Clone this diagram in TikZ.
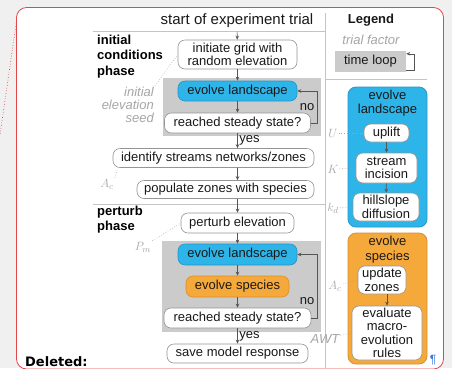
\documentclass[tikz,border=0pt]{standalone}
\usepackage{fontspec}
\setmainfont{Liberation Sans}
\newfontfamily\delfont{DejaVu Sans}
\usetikzlibrary{arrows.meta}
\definecolor{boxgray}{HTML}{959595}
\definecolor{loopgray}{HTML}{CBCBCB}
\definecolor{lgray}{HTML}{C4C4C4}
\definecolor{lblue}{HTML}{2DB4E8}
\definecolor{dblue}{HTML}{2596C8}
\definecolor{lorange}{HTML}{F6A93B}
\definecolor{dorange}{HTML}{D8912E}
\definecolor{labgray}{HTML}{A6A6A6}
\definecolor{wordred}{HTML}{E2474B}
\definecolor{pagebg}{HTML}{F0F0F0}
\definecolor{inkgray}{HTML}{555555}
\definecolor{pilcrow}{HTML}{3C78D8}
\begin{document}
\begin{tikzpicture}[x=1pt,y=-1pt,
        txt/.style={font=\fontsize{13}{13.5}\selectfont, text=black!90},
        whitebox/.style={txt, draw=boxgray, fill=white, rounded corners=7pt, inner sep=0pt, align=center, line width=0.6pt},
        bluebox/.style={whitebox, fill=lblue, draw=dblue},
        orangebox/.style={whitebox, fill=lorange, draw=dorange},
        panel/.style={rounded corners=8pt, inner sep=0pt, line width=0.8pt},
        arr/.style={draw=inkgray, line width=0.6pt, -{Stealth[length=4pt,width=3.5pt]}},
        seedline/.style={draw=labgray, dotted, line width=0.6pt},
        divider/.style={draw=lgray, line width=0.8pt},
        faint/.style={text=labgray, font=\fontsize{13}{13}\selectfont\itshape, inner sep=1pt},
        phase/.style={font=\fontsize{13}{15.5}\selectfont\bfseries, align=left, anchor=west, inner sep=0pt}]
        \useasboundingbox (0,0) rectangle (452,368);
        \clip (0,0) rectangle (452,368);
        \fill[pagebg] (0,0) rectangle (452,368);
        % comment balloon
        \draw[wordred, fill=white, rounded corners=10pt, line width=0.8pt] (16.5,7.5) rectangle (443.5,369);
        \draw[wordred, dotted, line width=0.7pt] (16.5,21) -- (0,135);
        \node[anchor=base west, inner sep=0pt, font=\fontsize{13}{13}\delfont\bfseries] (del) at (25,366) {Deleted:};
        \node[text=pilcrow, inner sep=0pt, font=\fontsize{12}{12}\selectfont] (pil) at (433,360) {¶};
        % dividers
        \draw[divider] (93,31) -- (325,31);
        \draw[divider] (93,204) -- (325,204);
        \draw[divider] (325,13) -- (325,368);
        \draw[divider] (325,79) -- (427,79);
        % time loops
        \fill[loopgray] (163,78) rectangle (321,136);
        \fill[loopgray] (162,241) rectangle (321,332);
        % process panels
        \node[panel, fill=lblue, draw=dblue, minimum width=79pt, minimum height=140pt] (lscp) at (387.5,157) {};
        \node[panel, fill=lorange, draw=dorange, minimum width=79pt, minimum height=131pt] (spcs) at (387.5,298.5) {};
        \node[txt, align=center, font=\fontsize{13}{14}\selectfont] (lscptitle) at (387.5,103) {evolve\\landscape};
        \node[txt, align=center, font=\fontsize{13}{15}\selectfont] (spcstitle) at (387.5,249.5) {evolve\\species};
        % boxes
        \foreach \x/\y/\w/\h/\n/\s/\l in {237.5/54.5/119/29/init/whitebox/{initiate grid with\\random elevation},
            237.5/91/119/20/evo1/bluebox/{evolve landscape},
            237.5/123/146/20/ss1/whitebox/{reached steady state?},
            213.5/158/201/19/ident/whitebox/{identify streams networks/zones},
            225.5/189.5/177/18/pop/whitebox/{populate zones with species},
            237.5/223/113/20/pert/whitebox/{perturb elevation},
            237.5/254.5/119/21/evo2/bluebox/{evolve landscape},
            237.5/286.5/103/21/spec/orangebox/{evolve species},
            237.5/318/147/20/ss2/whitebox/{reached steady state?},
            237.5/353.5/141/19/save/whitebox/{save model response},
            386.5/133/45/18/uplift/whitebox/{uplift},
            386.5/168/61/30/incis/whitebox/{stream\\incision},
            386/207/66/28/diff/whitebox/{hillslope\\diffusion},
            382/280/48/28/zones/whitebox/{update\\zones},
            387/333/70/54/rules/whitebox/{evaluate\\macro-\\evolution\\rules}}{
            \node[\s, minimum width=\w pt, minimum height=\h pt] (\n) at (\x,\y) {\l};
        }
        % headings and legend
        \node[txt, font=\fontsize{15}{17}\selectfont] (start) at (237,21) {start of experiment trial};
        \node[phase] (initphase) at (97,56.5) {initial\\conditions\\phase};
        \node[phase] (pertphase) at (97,219.5) {perturb\\phase};
        \node[txt, font=\fontsize{13}{13}\selectfont\bfseries] (legend) at (371,20) {Legend};
        \node[faint] (factor) at (371,40) {trial factor};
        \node[txt, fill=loopgray, minimum width=71pt, minimum height=21pt, inner sep=0pt] (tloop) at (370.5,61.5) {time loop};
        \draw[arr] ([yshift=2pt]tloop.south east) -- ++(8,0) |- ([yshift=-3pt]tloop.north east);
        % arrows
        \draw[arr] (start) -- (init);
        \foreach \a/\b in {init/evo1,evo1/ss1,pert/evo2,evo2/spec,spec/ss2,uplift/incis,incis/diff}{
            \draw[arr] (\a) -- (\b);
        }
        \draw[arr] (ss1.south) -- node[txt, right, inner sep=1.5pt] (yes1) {yes} (ss1.south |- ident.north);
        \draw[arr] (ss2.south) -- node[txt, right, inner sep=1.5pt] (yes2) {yes} (save.north);
        \draw[arr] (ident.south -| init) -- (pop.north -| init);
        \draw[arr] (pop.south -| pert) -- (pert.north);
        \draw[arr] (zones.south -| rules) -- (rules.north);
        \draw[arr] (ss1.east) -- ++(6.5,0) |- (evo1.east);
        \draw[arr] (ss2.east) -- ++(6,0) |- (evo2.east);
        \node[txt] (no1) at (307,107) {no};
        \node[txt] (no2) at (307,301) {no};
        % trial factors
        \node[faint, anchor=east, align=right] (seed) at (155,105) {initial\\elevation\\seed};
        \node[faint] (Ac1) at (107,184) {$A_c$};
        \node[faint] (Pm) at (143,247) {$P_m$};
        \node[faint] (U) at (333,133) {$U$};
        \node[faint] (K) at (333,169) {$K$};
        \node[faint] (kd) at (333,208) {$k_d$};
        \node[faint] (Ac2) at (335,286) {$A_c$};
        \node[faint] (awt) at (325,339) {AWT};
        \draw[seedline] (seed.north east) -- (init.west);
        \draw[seedline] (Ac1.north east) -- ([xshift=5pt]ident.south west);
        \draw[seedline] (Pm.north east) -- (pert.west);
        \foreach \a/\b in {U/uplift,K/incis,kd/diff,Ac2/zones,awt/rules}{
            \draw[seedline] (\a) -- (\b.west);
        }
    \end{tikzpicture}
\end{document}
